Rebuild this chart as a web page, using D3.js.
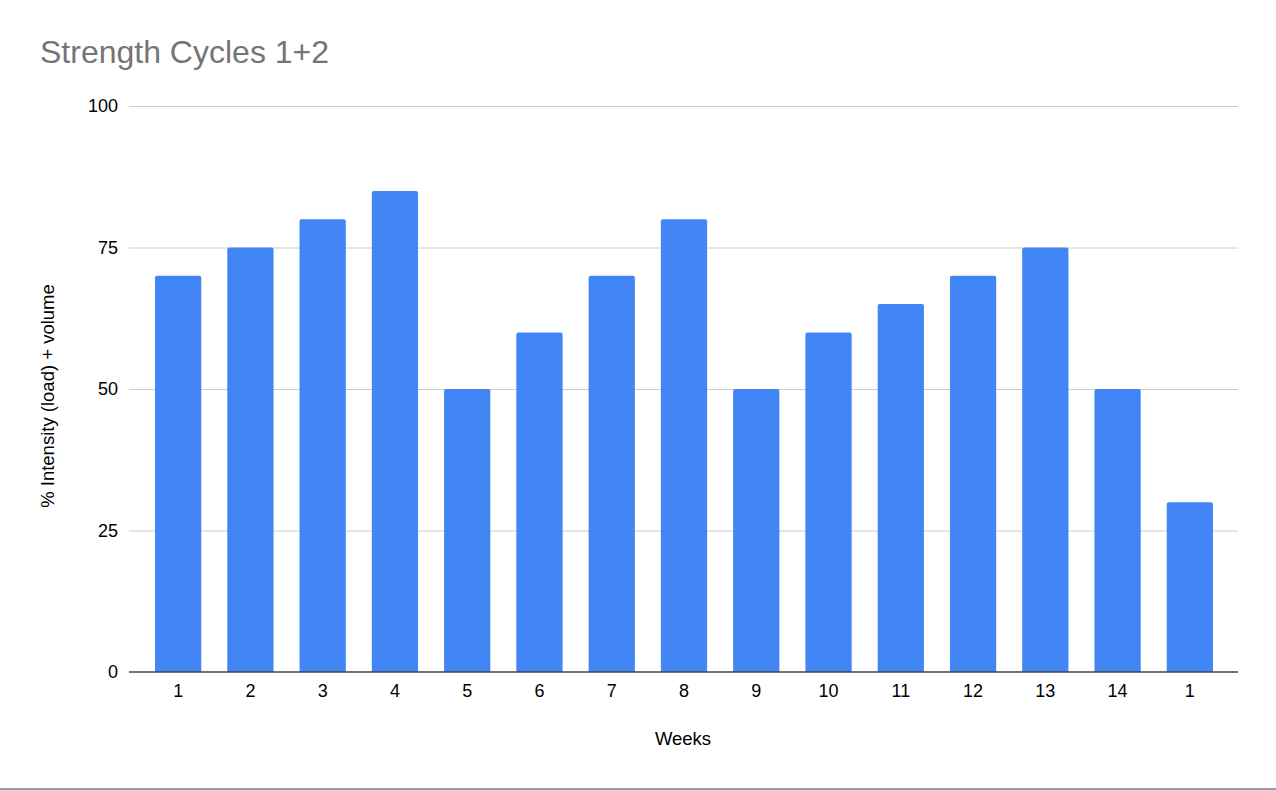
<!DOCTYPE html>
<html>
<head>
<meta charset="utf-8">
<script src="https://cdn.jsdelivr.net/npm/d3@7"></script>
<style>
  html, body { margin: 0; padding: 0; background: #fff; }
  svg { display: block; font-family: Arial, "Liberation Sans", Helvetica, sans-serif; }
</style>
</head>
<body>
<div class="chart"></div>
<script>
const weeks = ["1", "2", "3", "4", "5", "6", "7", "8", "9", "10", "11", "12", "13", "14", "1"];
const intensity = [70, 75, 80, 85, 50, 60, 70, 80, 50, 60, 65, 70, 75, 50, 30];
const yTicks = [0, 25, 50, 75, 100];

const width = 1276;
const height = 790;

const svg = d3.select(".chart")
  .append("svg")
  .attr("width", width)
  .attr("height", height);

const data = weeks.map((w, i) => ({ key: i, label: w, value: intensity[i] }));

const x = d3.scaleBand()
  .domain(data.map((d) => d.key))
  .range([142, 1226])
  .paddingInner(0.36)
  .paddingOuter(0.18);

const y = d3.scaleLinear()
  .domain([0, 100])
  .range([672, 106]);

// title
svg.append("text")
  .attr("x", 40)
  .attr("y", 63)
  .style("font-size", "32px")
  .style("fill", "#757575")
  .text("Strength Cycles 1+2");

// gridlines
svg.append("g")
  .selectAll("line")
  .data(yTicks.filter((t) => t > 0)).enter()
  .append("line")
    .attr("x1", 129)
    .attr("x2", 1238)
    .attr("y1", (d) => y(d) + 0.5)
    .attr("y2", (d) => y(d) + 0.5)
    .style("stroke", "#cccccc")
    .style("stroke-width", 1);

// y tick labels
svg.append("g")
  .selectAll("text")
  .data(yTicks).enter()
  .append("text")
    .attr("x", 118)
    .attr("y", (d) => y(d))
    .attr("dy", "0.36em")
    .attr("text-anchor", "end")
    .style("font-size", "18px")
    .style("fill", "#000")
    .text((d) => d);

// bars with slightly rounded tops
const r = 2;
svg.append("g")
  .selectAll("path")
  .data(data).enter()
  .append("path")
    .attr("d", (d) => {
      const x0 = x(d.key), x1 = x0 + x.bandwidth();
      const top = y(d.value), bot = y(0);
      return `M${x0},${bot}V${top + r}Q${x0},${top} ${x0 + r},${top}` +
             `H${x1 - r}Q${x1},${top} ${x1},${top + r}V${bot}Z`;
    })
    .style("fill", "#4285f4");

// baseline
svg.append("line")
  .attr("x1", 129)
  .attr("x2", 1238)
  .attr("y1", y(0))
  .attr("y2", y(0))
  .style("stroke", "#444")
  .style("stroke-width", 1.5);

// x tick labels
svg.append("g")
  .selectAll("text")
  .data(data).enter()
  .append("text")
    .attr("x", (d) => x(d.key) + x.bandwidth() / 2)
    .attr("y", 697)
    .attr("text-anchor", "middle")
    .style("font-size", "18px")
    .style("fill", "#000")
    .text((d) => d.label);

// axis titles
svg.append("text")
  .attr("x", 683)
  .attr("y", 745)
  .attr("text-anchor", "middle")
  .style("font-size", "18.5px")
  .style("fill", "#000")
  .text("Weeks");

svg.append("text")
  .attr("transform", "translate(54, 396) rotate(-90)")
  .attr("text-anchor", "middle")
  .style("font-size", "18.5px")
  .style("fill", "#000")
  .text("% Intensity (load) + volume");

// bottom border
svg.append("rect")
  .attr("x", 0)
  .attr("y", 788)
  .attr("width", width)
  .attr("height", 2)
  .style("fill", "#9e9e9e");
</script>
</body>
</html>
